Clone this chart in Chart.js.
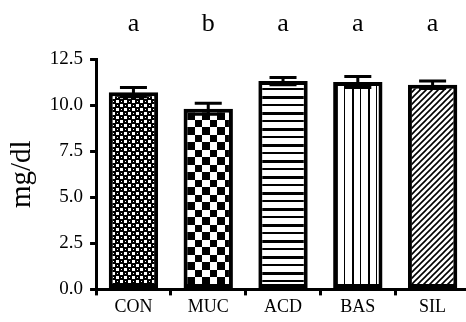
<!DOCTYPE html>
<html>
<head>
<meta charset="utf-8">
<script src="https://cdn.jsdelivr.net/npm/chart.js@4/dist/chart.umd.min.js"></script>
<style>
  html, body { margin: 0; padding: 0; background: #fff; overflow: hidden; }
</style>
</head>
<body>
<canvas id="bar-chart" width="472" height="322"></canvas>
<script>
// data
var groups  = ["CON", "MUC", "ACD", "BAS", "SIL"];
var means   = [10.7, 9.8, 11.3, 11.25, 11.1];
var errors  = [0.25, 0.3, 0.2, 0.3, 0.2];
var letters = ["a", "b", "a", "a", "a"];
var yTicks  = [0, 2.5, 5, 7.5, 10, 12.5];

var FONT = "'Liberation Serif', 'Times New Roman', serif";

/* fill patterns */
function tile(w, h, draw) {
    var c = document.createElement('canvas');
    c.width = w; c.height = h;
    var g = c.getContext('2d');
    g.fillStyle = '#fff';
    g.fillRect(0, 0, w, h);
    g.fillStyle = '#000';
    g.strokeStyle = '#000';
    draw(g, w, h);
    return document.getElementById('bar-chart').getContext('2d').createPattern(c, 'repeat');
}

var patCON = tile(8, 8, function(g) {
    g.fillRect(0, 0, 8, 8);
    g.fillStyle = '#fff';
    g.fillRect(0, 0, 3, 3);
    g.fillRect(4, 4, 3, 3);
    g.fillRect(5, 1, 1, 1);
    g.fillRect(1, 5, 1, 1);
});
var patMUC = tile(15, 15, function(g) {
    g.fillRect(0, 0, 7, 7);
    g.fillRect(7, 7, 8, 8);
});
var patACD = tile(8, 16, function(g) {
    g.fillRect(0, 0, 8, 3);
    g.fillRect(0, 8, 8, 2);
});
var patBAS = tile(16, 8, function(g) {
    g.fillRect(0, 0, 2, 8);
    g.fillRect(8, 0, 1, 8);
});
var patSIL = tile(6, 6, function(g) {
    g.lineWidth = 1.6;
    g.beginPath();
    g.moveTo(-1, 7); g.lineTo(7, -1);
    g.moveTo(-4, 4); g.lineTo(4, -4);
    g.moveTo(2, 10); g.lineTo(10, 2);
    g.stroke();
});
var fills = [patCON, patMUC, patACD, patBAS, patSIL];

/* error bars + significance letters */
var extras = {
    id: 'extras',
    afterDatasetsDraw: function(chart) {
        var ctx = chart.ctx;
        var y = chart.scales.y;
        var meta = chart.getDatasetMeta(0);
        ctx.save();
        ctx.strokeStyle = '#000';
        ctx.lineWidth = 3;
        for (var i = 0; i < means.length; i++) {
            var x = meta.data[i].x;
            var hi = y.getPixelForValue(means[i] + errors[i]);
            var lo = y.getPixelForValue(means[i] - errors[i]);
            ctx.beginPath();
            ctx.moveTo(x, hi); ctx.lineTo(x, lo);
            ctx.moveTo(x - 13.5, hi); ctx.lineTo(x + 13.5, hi);
            ctx.moveTo(x - 13.5, lo); ctx.lineTo(x + 13.5, lo);
            ctx.stroke();
        }
        ctx.fillStyle = '#000';
        ctx.font = '26px ' + FONT;
        ctx.textAlign = 'center';
        ctx.textBaseline = 'middle';
        for (var j = 0; j < letters.length; j++) {
            ctx.fillText(letters[j], meta.data[j].x, chart.chartArea.top - 35);
        }
        ctx.restore();
    }
};

new Chart(document.getElementById("bar-chart"), {
    type: 'bar',
    data: {
        labels: groups,
        datasets: [{
            data: means,
            backgroundColor: fills,
            borderColor: '#000',
            borderWidth: 4,
            borderSkipped: false,
            barPercentage: 0.66,
            categoryPercentage: 1
        }]
    },
    options: {
        responsive: false,
        animation: false,
        layout: { padding: { top: 59, right: 2, left: 2, bottom: 3 } },
        plugins: {
            legend: { display: false },
            tooltip: { enabled: false }
        },
        scales: {
            x: {
                grid: { display: true, drawOnChartArea: false, drawTicks: true, tickLength: 6, lineWidth: 3, color: '#000' },
                border: { display: true, width: 3, color: '#000' },
                ticks: { color: '#000', font: { family: FONT, size: 18 }, padding: 1 }
            },
            y: {
                min: 0,
                max: 12.5,
                afterBuildTicks: function(axis) {
                    axis.ticks = yTicks.map(function(v) { return { value: v }; });
                },
                grid: { display: true, drawOnChartArea: false, drawTicks: true, tickLength: 6, lineWidth: 3, color: '#000' },
                border: { display: true, width: 3, color: '#000' },
                ticks: {
                    color: '#000',
                    font: { family: FONT, size: 19 },
                    padding: 7,
                    callback: function(v) { return Number(v).toFixed(1); }
                },
                title: { display: true, text: 'mg/dl', color: '#000', font: { family: FONT, size: 29 }, padding: 3 }
            }
        }
    },
    plugins: [extras]
});
</script>
</body>
</html>
